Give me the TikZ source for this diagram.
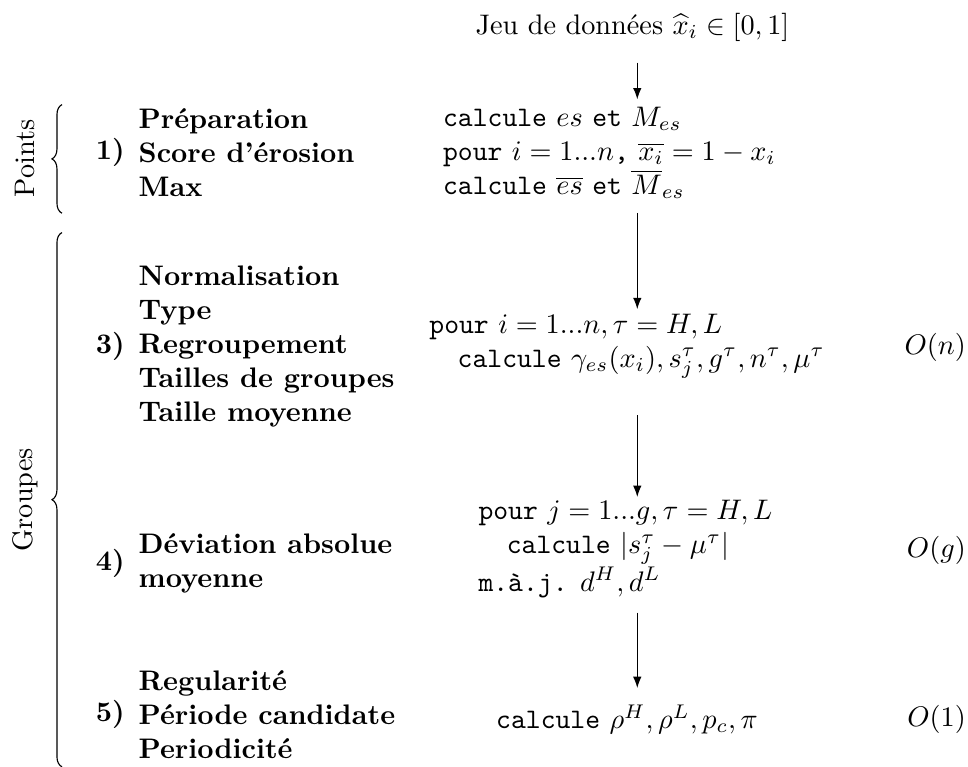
\documentclass[tikz,border=0pt]{standalone}
\usepackage{amsmath,amssymb}
\usetikzlibrary{arrows.meta,positioning,decorations.pathreplacing}

\begin{document}
\begin{tikzpicture}[
    auto,
    % colonne de gauche : numeros et noms des etapes
    num/.style={inner sep=0pt, font=\bfseries},
    steptext/.style={inner sep=0pt, align=left, font=\bfseries},
    % colonne centrale : pseudo-code
    algo/.style={align=left, anchor=west, inner sep=0pt},
    cost/.style={anchor=east, inner sep=0pt},
    arrow/.style={-{Latex[length=4pt,width=3pt]}},
    accolade/.style={decorate, decoration={brace, amplitude=0.124cm}}
  ]
  \useasboundingbox (0,0) rectangle (12.03,-9.53);

  % Entree
  \node (data) at (7.86,-0.34) {Jeu de données $\widehat{x}_i \in [0,1]$};
  \coordinate (col) at (7.92,0);

  % Pseudo-code
  \node (prep) [algo] at (5.50,-1.90) {\texttt{calcule} $es$ \texttt{et} $M_{es}$\\
    \texttt{pour} $i = 1...n$\texttt{,} $\overline{x_i} = 1 - x_i$\\
    \texttt{calcule} $\overline{es}$ \texttt{et} $\overline{M}_{es}$};
  \node (grp) [algo] at (5.33,-4.30) {\texttt{pour} $i = 1...n, \tau = H, L$\\
    \hspace*{1em}\texttt{calcule} $\gamma_{es}(x_i), s_j^\tau, g^\tau, n^\tau, \mu^\tau$};
  \node (dev) [algo] at (5.94,-6.82) {\texttt{pour} $j = 1...g, \tau = H, L$\\
    \hspace*{1em}\texttt{calcule} $|s_j^\tau - \mu^\tau|$\\
    \texttt{m.à.j.} $d^H, d^L$};
  \node (per) [algo] at (6.16,-8.94) {\texttt{calcule} $\rho^H, \rho^L, p_c, \pi$};

  % Complexites
  \node (cgrp) [cost] at (12.01,-4.32) {$O(n)$};
  \node (cdev) [cost] at (12.01,-6.84) {$O(g)$};
  \node (cper) [cost] at (12.01,-8.94) {$O(1)$};

  % Etapes
  \node (n1) [num] at (1.37,-1.90) {1)};
  \node (t1) [steptext, right=0.16cm of n1] {Préparation\\ Score d'érosion\\ Max};
  \node (n3) [num] at (1.37,-4.31) {3)};
  \node (t3) [steptext, right=0.16cm of n3] {Normalisation\\ Type\\ Regroupement\\ Tailles de groupes\\ Taille moyenne};
  \node (n4) [num] at (1.37,-7.00) {4)};
  \node (t4) [steptext, right=0.16cm of n4] {Déviation absolue\\ moyenne};
  \node (n5) [num] at (1.37,-8.88) {5)};
  \node (t5) [steptext, right=0.16cm of n5] {Regularité\\ Période candidate\\ Periodicité};

  % Accolades
  \draw [accolade] (0.77,-2.65) -- (0.77,-1.30);
  \draw [accolade] (0.77,-9.53) -- (0.77,-2.89);
  \node (points) [rotate=90] at (0.31,-1.97) {Points};
  \node (groupes) [rotate=90] at (0.31,-6.21) {Groupes};

  % Fleches
  \draw [arrow, shorten <=0.14cm, shorten >=0.09cm] (data.south -| col) -- (prep.north -| col);
  \draw [arrow, shorten <=0.17cm, shorten >=0.05cm] (prep.south -| col) -- (grp.north -| col);
  \draw [arrow, shorten <=0.45cm, shorten >=0.03cm] (grp.south -| col) -- (dev.north -| col);
  \draw [arrow, shorten <=0.18cm, shorten >=0.2cm] (dev.south -| col) -- (per.north -| col);

\end{tikzpicture}
\end{document}
